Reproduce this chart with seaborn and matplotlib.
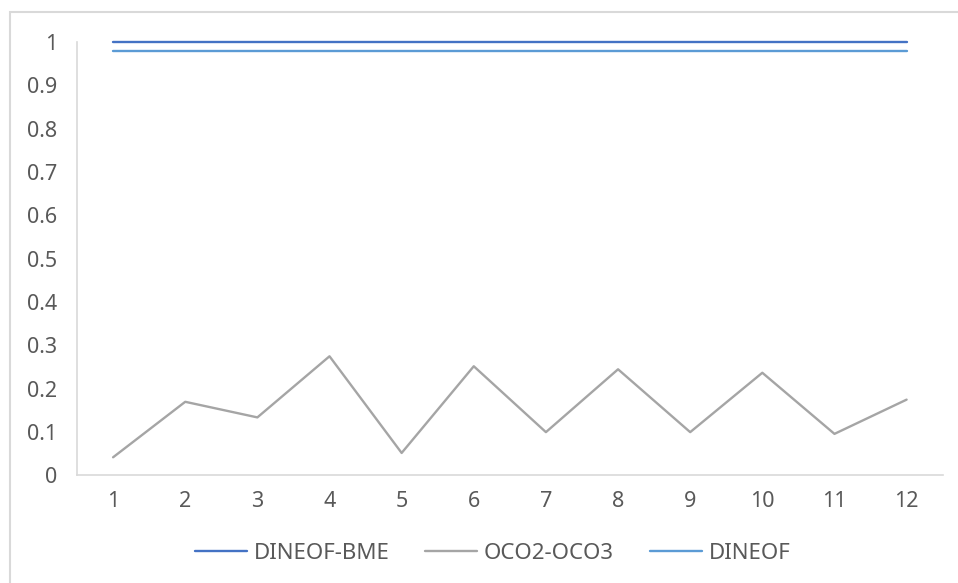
import numpy as np
import pandas as pd
import seaborn as sns
import matplotlib.pyplot as plt
from matplotlib.patches import Rectangle

# values
months = list(range(1, 13))
dineof_bme = [1.0] * 12
oco2_oco3 = [0.042, 0.170, 0.134, 0.275, 0.052, 0.252, 0.100, 0.245, 0.100, 0.237, 0.096, 0.175]
dineof = [0.979] * 12

series_names = ['DINEOF-BME', 'OCO2-OCO3', 'DINEOF']
series_colors = ['#4472C4', '#A5A5A5', '#5B9BD5']

df = pd.DataFrame({
    'month': months * 3,
    'value': dineof_bme + oco2_oco3 + dineof,
    'series': ['DINEOF-BME'] * 12 + ['OCO2-OCO3'] * 12 + ['DINEOF'] * 12,
})

sns.set_style('white')
plt.rcParams['font.family'] = ['Noto Sans', 'DejaVu Sans']
text_color = '#595959'

fig = plt.figure(figsize=(9.58, 5.83), dpi=100)
ax = fig.add_axes([0.0804, 0.1844, 0.9036, 0.7436])

sns.lineplot(data=df, x='month', y='value', hue='series', hue_order=series_names,
             palette=dict(zip(series_names, series_colors)), linewidth=1.7,
             ax=ax, clip_on=False)

ax.set_xlim(0.5, 12.5)
ax.set_ylim(0, 1.0)
ax.set_xticks(months)
ax.set_yticks(np.round(np.arange(0, 1.01, 0.1), 1))
ax.set_yticklabels(['0'] + [f'{v:.1f}' for v in np.arange(0.1, 0.95, 0.1)] + ['1'])
ax.tick_params(axis='both', length=0, labelsize=15.5, labelcolor=text_color)
ax.tick_params(axis='x', pad=11)
ax.tick_params(axis='y', pad=14)
ax.set_xlabel('')
ax.set_ylabel('')

for side in ['top', 'right']:
    ax.spines[side].set_visible(False)
for side in ['left', 'bottom']:
    ax.spines[side].set_color('#D9D9D9')
    ax.spines[side].set_linewidth(1.2)

ax.legend(loc='upper center', bbox_to_anchor=(0.48, -0.11), ncol=3, frameon=False,
          fontsize=16, labelcolor=text_color, handlelength=2.35, handletextpad=0.3,
          columnspacing=1.6)

# outer chart frame
fig.patches.append(Rectangle((10 / 958, -0.1), 1.2, 1 - 12 / 583 + 0.1, transform=fig.transFigure,
                             fill=False, edgecolor='#D9D9D9', linewidth=1.5))

fig.savefig('out.png', dpi=100)
